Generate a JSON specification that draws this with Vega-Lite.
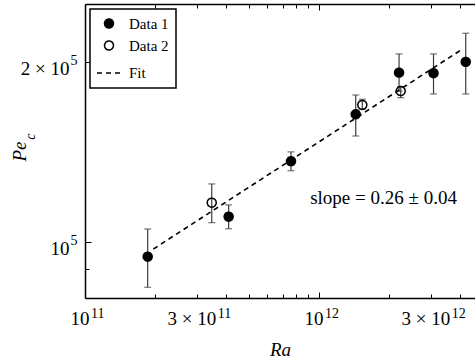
{
  "$schema": "https://vega.github.io/schema/vega-lite/v6.json",
  "width": 390,
  "height": 294,
  "autosize": {"type": "none"},
  "padding": {"left": 85, "top": 4, "right": 0, "bottom": 63},
  "background": "white",
  "config": {
    "view": {"stroke": null},
    "font": "Liberation Serif",
    "legend": {"strokeColor": "black", "strokeWidth": 1.5},
    "axis": {
      "domainColor": "black",
      "domainWidth": 1.5,
      "tickColor": "black",
      "tickWidth": 1,
      "labelColor": "black",
      "labelFont": "Liberation Serif",
      "labelFontSize": 19,
      "titleFont": "Liberation Serif",
      "titleFontSize": 19,
      "titleFontStyle": "italic",
      "titleFontWeight": "normal",
      "titleColor": "black",
      "grid": false,
      "labelOverlap": false,
      "labelFlush": false,
      "labelBound": false
    }
  },
  "datasets": {
    "pts": [
      {"series": "Data 1", "Ra": 1.853e11, "Pe": 94400, "lo": 83900, "hi": 105000},
      {"series": "Data 2", "Ra": 3.48e11, "Pe": 116200, "lo": 107600, "hi": 124900},
      {"series": "Data 1", "Ra": 4.11e11, "Pe": 110100, "lo": 105100, "hi": 115200},
      {"series": "Data 1", "Ra": 7.59e11, "Pe": 136300, "lo": 131400, "hi": 141300},
      {"series": "Data 1", "Ra": 1.435e12, "Pe": 163300, "lo": 150200, "hi": 175900},
      {"series": "Data 2", "Ra": 1.531e12, "Pe": 169300, "lo": 166500, "hi": 173000},
      {"series": "Data 1", "Ra": 2.198e12, "Pe": 191700, "lo": 178400, "hi": 206000},
      {"series": "Data 2", "Ra": 2.234e12, "Pe": 178600, "lo": 174100, "hi": 181600},
      {"series": "Data 1", "Ra": 3.085e12, "Pe": 191300, "lo": 176600, "hi": 206000},
      {"series": "Data 1", "Ra": 4.236e12, "Pe": 199800, "lo": 176600, "hi": 223100}
    ],
    "fit": [
      {"series": "Fit", "Ra": 1.96e11, "Pe": 97200},
      {"series": "Fit", "Ra": 4.0e12, "Pe": 208600}
    ],
    "note": [
      {"Ra": 1.886e12, "Pe": 118300, "text": "slope = 0.26 ± 0.04"}
    ],
    "sub": [
      {"Ra": 5.9e10, "Pe": 149800, "text": "c"}
    ]
  },
  "resolve": {"axis": {"x": "independent", "y": "independent"}},
  "layer": [
    {
      "data": {"name": "pts"},
      "mark": {"type": "rule", "color": "#3c3c3c", "strokeWidth": 1.2},
      "encoding": {
        "x": {
          "field": "Ra", "type": "quantitative",
          "scale": {"type": "log", "domain": [1e11, 4.64e12], "nice": false, "zero": false},
          "axis": {
            "orient": "bottom",
            "title": "Ra",
            "titleY": 57,
            "titleBaseline": "alphabetic",
            "values": [1e11, 2e11, 3e11, 4e11, 5e11, 6e11, 7e11, 8e11, 9e11, 1e12, 2e12, 3e12, 4e12],
            "labels": false,
            "tickSize": {"condition": {"test": "datum.value == 1e11 || datum.value == 1e12", "value": -6}, "value": -4}
          }
        },
        "y": {
          "field": "lo", "type": "quantitative",
          "scale": {"type": "log", "domain": [80500, 249700], "nice": false, "zero": false},
          "axis": {
            "orient": "left",
            "title": "Pe",
            "titleX": -60,
            "titleBaseline": "alphabetic",
            "values": [90000, 100000, 200000],
            "labels": false,
            "tickSize": {"condition": {"test": "datum.value == 1e5 || datum.value == 2e5", "value": -6}, "value": -4}
          }
        },
        "y2": {"field": "hi"}
      }
    },
    {
      "data": {"name": "pts"},
      "mark": {"type": "tick", "orient": "horizontal", "color": "#3c3c3c", "size": 7, "thickness": 1.2},
      "encoding": {
        "x": {
          "field": "Ra", "type": "quantitative",
          "scale": {"type": "log", "domain": [1e11, 4.64e12], "nice": false, "zero": false},
          "axis": {
            "orient": "bottom",
            "title": null,
            "domain": false,
            "ticks": false,
            "tickSize": 0,
            "values": [1e11, 3e11, 1e12, 3e12],
            "labelExpr": "datum.value == 1e11 || datum.value == 1e12 ? '10' : '3 × 10'",
            "labelAlign": "right",
            "labelBaseline": "middle",
            "labelPadding": 20.5,
            "labelOffset": {"condition": {"test": "datum.value == 3e11 || datum.value == 3e12", "value": 19}, "value": 4}
          }
        },
        "y": {
          "field": "lo", "type": "quantitative",
          "scale": {"type": "log", "domain": [80500, 249700], "nice": false, "zero": false},
          "axis": {
            "orient": "left",
            "title": null,
            "domain": false,
            "ticks": false,
            "tickSize": 0,
            "values": [100000, 200000],
            "labelExpr": "datum.value == 1e5 ? '10' : '2 × 10'",
            "labelAlign": "right",
            "labelBaseline": "middle",
            "labelPadding": 16,
            "labelOffset": 7
          }
        }
      }
    },
    {
      "data": {"name": "pts"},
      "mark": {"type": "tick", "orient": "horizontal", "color": "#3c3c3c", "size": 7, "thickness": 1.2},
      "encoding": {
        "x": {
          "field": "Ra", "type": "quantitative",
          "scale": {"type": "log", "domain": [1e11, 4.64e12], "nice": false, "zero": false},
          "axis": {
            "orient": "bottom",
            "title": null,
            "domain": false,
            "ticks": false,
            "tickSize": 0,
            "values": [1e11, 3e11, 1e12, 3e12],
            "labelExpr": "datum.value < 9e11 ? '11' : '12'",
            "labelFontSize": 14,
            "labelAlign": "left",
            "labelBaseline": "middle",
            "labelPadding": 15,
            "labelOffset": {"condition": {"test": "datum.value == 3e11 || datum.value == 3e12", "value": 20.5}, "value": 5.5}
          }
        },
        "y": {
          "field": "hi", "type": "quantitative",
          "scale": {"type": "log", "domain": [80500, 249700], "nice": false, "zero": false},
          "axis": {
            "orient": "left",
            "title": null,
            "domain": false,
            "ticks": false,
            "tickSize": 0,
            "values": [100000, 200000],
            "labelExpr": "'5'",
            "labelFontSize": 14,
            "labelAlign": "right",
            "labelBaseline": "middle",
            "labelPadding": 8,
            "labelOffset": -1
          }
        }
      }
    },
    {
      "data": {"name": "fit"},
      "mark": {"type": "line", "color": "black", "strokeWidth": 1.6, "strokeDash": [5, 4]},
      "encoding": {
        "x": {
          "field": "Ra", "type": "quantitative",
          "scale": {"type": "log", "domain": [1e11, 4.64e12], "nice": false, "zero": false},
          "axis": {
            "orient": "top",
            "title": null,
            "values": [1e11, 2e11, 3e11, 4e11, 5e11, 6e11, 7e11, 8e11, 9e11, 1e12, 2e12, 3e12, 4e12],
            "labels": false,
            "tickSize": {"condition": {"test": "datum.value == 1e11 || datum.value == 1e12", "value": -6}, "value": -4}
          }
        },
        "y": {"field": "Pe", "type": "quantitative", "scale": {"type": "log", "domain": [80500, 249700], "nice": false, "zero": false}, "axis": null}
      }
    },
    {
      "data": {"name": "pts"},
      "mark": {"type": "point", "filled": false, "stroke": "black", "strokeWidth": 1.5, "opacity": 1},
      "encoding": {
        "x": {"field": "Ra", "type": "quantitative", "scale": {"type": "log", "domain": [1e11, 4.64e12], "nice": false, "zero": false}, "axis": null},
        "y": {"field": "Pe", "type": "quantitative", "scale": {"type": "log", "domain": [80500, 249700], "nice": false, "zero": false}, "axis": null},
        "fill": {
          "field": "series", "type": "nominal",
          "scale": {"domain": ["Data 1", "Data 2", "Fit"], "range": ["black", "transparent", "transparent"]},
          "legend": {
            "title": null,
            "orient": "top-left",
            "offset": 5,
            "fillColor": "white",
            "padding": 7,
            "rowPadding": 6,
            "labelFont": "Liberation Serif",
            "labelFontSize": 15,
            "labelColor": "black",
            "symbolStrokeColor": "black",
            "symbolStrokeWidth": 1.5,
            "symbolOffset": -1,
            "labelOffset": 7
          }
        },
        "shape": {
          "field": "series", "type": "nominal",
          "scale": {"domain": ["Data 1", "Data 2", "Fit"], "range": ["circle", "circle", "stroke"]},
          "legend": {"title": null}
        },
        "strokeDash": {
          "field": "series", "type": "nominal",
          "scale": {"domain": ["Data 1", "Data 2", "Fit"], "range": [[1, 0], [1, 0], [5, 4]]},
          "legend": {"title": null}
        },
        "size": {
          "field": "series", "type": "nominal",
          "scale": {"type": "ordinal", "domain": ["Data 1", "Data 2", "Fit"], "range": [80, 80, 576]},
          "legend": {"title": null}
        }
      }
    },
    {
      "data": {"name": "note"},
      "mark": {"type": "text", "font": "Liberation Serif", "fontSize": 19, "color": "black", "align": "center", "baseline": "middle"},
      "encoding": {
        "x": {"field": "Ra", "type": "quantitative", "scale": {"type": "log", "domain": [1e11, 4.64e12], "nice": false, "zero": false}, "axis": null},
        "y": {"field": "Pe", "type": "quantitative", "scale": {"type": "log", "domain": [80500, 249700], "nice": false, "zero": false}, "axis": null},
        "text": {"field": "text"}
      }
    },
    {
      "data": {"name": "sub"},
      "mark": {"type": "text", "font": "Liberation Serif", "fontSize": 14, "fontStyle": "italic", "color": "black", "align": "center", "baseline": "middle", "angle": 270},
      "encoding": {
        "x": {"field": "Ra", "type": "quantitative", "scale": {"type": "log", "domain": [1e11, 4.64e12], "nice": false, "zero": false}, "axis": null},
        "y": {"field": "Pe", "type": "quantitative", "scale": {"type": "log", "domain": [80500, 249700], "nice": false, "zero": false}, "axis": null},
        "text": {"field": "text"}
      }
    }
  ]
}
